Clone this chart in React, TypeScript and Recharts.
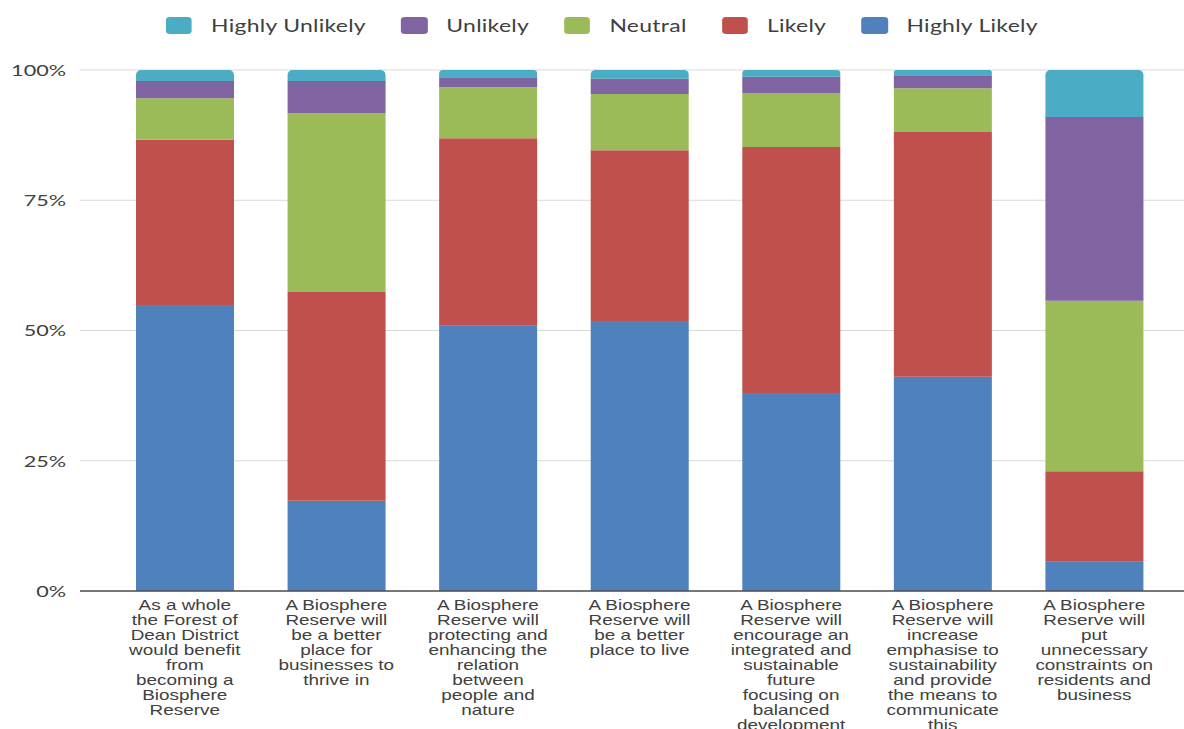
import React from 'react';
import { BarChart, Bar, XAxis, YAxis, CartesianGrid } from 'recharts';

// label lines as they wrap under each bar
const tickLines = [
  ['As a whole', 'the Forest of', 'Dean District', 'would benefit', 'from', 'becoming a', 'Biosphere', 'Reserve'],
  ['A Biosphere', 'Reserve will', 'be a better', 'place for', 'businesses to', 'thrive in'],
  ['A Biosphere', 'Reserve will', 'protecting and', 'enhancing the', 'relation', 'between', 'people and', 'nature'],
  ['A Biosphere', 'Reserve will', 'be a better', 'place to live'],
  ['A Biosphere', 'Reserve will', 'encourage an', 'integrated and', 'sustainable', 'future', 'focusing on', 'balanced', 'development'],
  ['A Biosphere', 'Reserve will', 'increase', 'emphasise to', 'sustainability', 'and provide', 'the means to', 'communicate', 'this'],
  ['A Biosphere', 'Reserve will', 'put', 'unnecessary', 'constraints on', 'residents and', 'business'],
];
const categories = tickLines.map(l => l.join(' '));

const highlyLikely = [54.9, 17.3, 50.9, 51.8, 38.0, 41.1, 5.6];
const likely = [31.7, 40.1, 36.0, 32.8, 47.2, 47.0, 17.4];
const neutral = [8.0, 34.3, 9.8, 10.8, 10.4, 8.4, 32.7];
const unlikely = [3.3, 6.2, 1.9, 2.9, 3.1, 2.5, 35.3];
const highlyUnlikely = [2.1, 2.1, 1.4, 1.7, 1.3, 1.0, 9.0];

const yTicks = [0, 0.25, 0.5, 0.75, 1];

const series = [
  { key: 'Highly Likely', values: highlyLikely, color: '#4F81BD' },
  { key: 'Likely', values: likely, color: '#C0504D' },
  { key: 'Neutral', values: neutral, color: '#9BBB59' },
  { key: 'Unlikely', values: unlikely, color: '#8064A2' },
  { key: 'Highly Unlikely', values: highlyUnlikely, color: '#4BACC6' },
];

const data = categories.map((name, i) => {
  const row: any = { name };
  series.forEach(s => { row[s.key] = s.values[i]; });
  return row;
});

const STRETCH = 1.35;
const textColor = '#404040';

const XTick = (props: any) => {
  const { x, y, payload } = props;
  const idx = categories.indexOf(payload.value);
  const lines = idx >= 0 ? tickLines[idx] : [];
  return (
    <g transform={`translate(${x},${y}) scale(${STRETCH},1)`}>
      <text textAnchor="middle" fontFamily="'Liberation Sans', Arial, sans-serif" fontSize={14} fill={textColor}>
        {lines.map((l, i) => (
          <tspan key={i} x={0} y={19.5 + i * 15}>{l}</tspan>
        ))}
      </text>
    </g>
  );
};

const YTick = (props: any) => {
  const { x, y, payload } = props;
  return (
    <g transform={`translate(${x},${y}) scale(${STRETCH},1)`}>
      <text x={0} y={0} dy="0.36em" textAnchor="end" fontFamily="Lato, sans-serif" fontSize={16} fill={textColor}>
        {Math.round(payload.value * 100)}%
      </text>
    </g>
  );
};

const LegendRow = () => (
  <div
    style={{
      position: 'absolute', top: 15.5, left: 0, width: 1184, height: 20,
      display: 'flex', justifyContent: 'center', alignItems: 'center',
      transform: `translateX(10px) scaleX(${STRETCH})`, transformOrigin: '50% 50%',
    }}
  >
    {[...series].reverse().map((s, i, arr) => (
      <div key={s.key} style={{ display: 'flex', alignItems: 'center', marginRight: i < arr.length - 1 ? 26.2 : 0 }}>
        <div style={{ width: 19.3, height: 17, borderRadius: 3, background: s.color }} />
        <span style={{ marginLeft: 14, fontFamily: 'Lato, sans-serif', fontSize: 17, letterSpacing: 0.2, color: textColor, lineHeight: '20px' }}>
          {s.key}
        </span>
      </div>
    ))}
  </div>
);

export default function App() {
  return (
    <div style={{ position: 'absolute', left: 0, top: 0, width: 1184, height: 729, background: '#fff' }}>
      <BarChart
        width={1184}
        height={729}
        data={data}
        stackOffset="expand"
        margin={{ top: 70, right: 0, bottom: 0, left: 0 }}
      >
        <CartesianGrid horizontal vertical={false} stroke="#d9d9d9" strokeWidth={1} />
        <XAxis
          dataKey="name"
          height={138}
          interval={0}
          tickLine={false}
          tickSize={0}
          tickMargin={0}
          axisLine={{ stroke: '#505050', strokeWidth: 1.3 }}
          padding={{ left: 29, right: 14 }}
          tick={<XTick />}
        />
        <YAxis
          width={80}
          domain={[0, 1]}
          ticks={yTicks}
          axisLine={false}
          tickLine={false}
          tickSize={0}
          tickMargin={14}
          tick={<YTick />}
        />
        {series.map((s, i) => (
          <Bar
            key={s.key}
            dataKey={s.key}
            stackId="a"
            fill={s.color}
            barSize={98}
            radius={i === series.length - 1 ? [5, 5, 0, 0] : 0}
            isAnimationActive={false}
          />
        ))}
      </BarChart>
      <LegendRow />
    </div>
  );
}
